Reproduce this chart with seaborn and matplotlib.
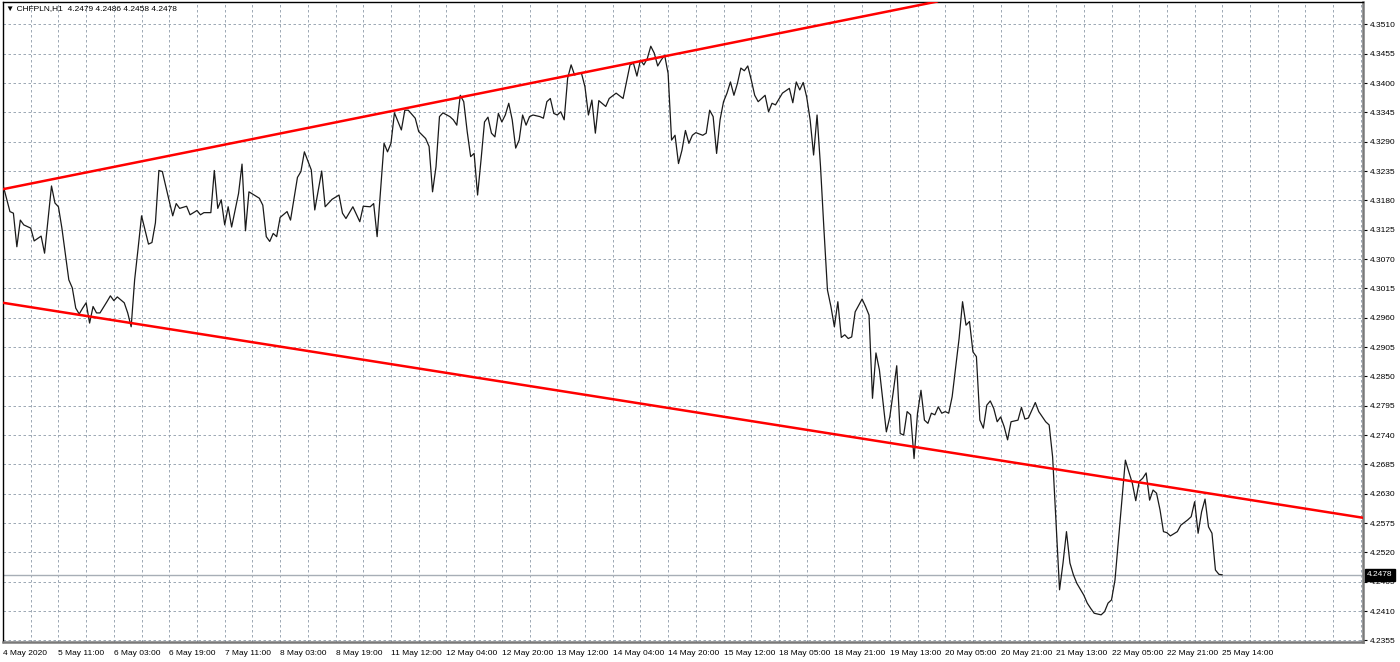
import matplotlib
matplotlib.use("Agg")
import matplotlib.pyplot as plt
import matplotlib.transforms as mtransforms
import pandas as pd
import seaborn as sns

symbol = "CHFPLN,H1"
last_ohlc = [4.2479, 4.2486, 4.2458, 4.2478]

# hourly bar index (weekend gaps removed, like the terminal does) and close price
bars = [
    0, 2, 3, 4, 5, 6, 8, 9, 11, 12, 14, 15, 16, 17, 19, 20, 21, 22, 23, 24,
    25, 26, 27, 28, 30, 31, 32, 33, 35, 36, 37, 38, 39, 40, 42, 43, 44, 45, 46, 47,
    49, 50, 51, 53, 54, 56, 57, 58, 60, 61, 62, 63, 64, 65, 66, 68, 69, 70, 71, 72,
    74, 75, 76, 77, 78, 79, 80, 82, 83, 85, 86, 87, 89, 90, 92, 93, 95, 97, 98, 99,
    101, 103, 104, 106, 107, 108, 109, 110, 111, 112, 113, 115, 116, 117, 119, 120, 122, 123, 124, 125,
    126, 127, 129, 130, 131, 132, 133, 134, 135, 136, 137, 138, 139, 140, 141, 142, 143, 144, 145, 146,
    147, 148, 149, 150, 151, 152, 153, 155, 156, 157, 158, 159, 160, 161, 162, 163, 164, 165, 166, 167,
    168, 169, 170, 171, 172, 174, 175, 177, 179, 181, 182, 183, 184, 185, 186, 187, 188, 189, 190, 191,
    192, 193, 194, 195, 196, 197, 198, 199, 200, 202, 203, 204, 205, 206, 207, 208, 209, 210, 211, 212,
    213, 214, 215, 216, 217, 218, 220, 221, 222, 223, 225, 227, 228, 229, 230, 231, 232, 233, 234, 235,
    236, 237, 238, 239, 240, 241, 242, 243, 244, 245, 246, 248, 249, 250, 251, 252, 253, 255, 256, 257,
    258, 259, 260, 261, 262, 263, 264, 265, 266, 267, 268, 269, 270, 271, 272, 273, 274, 276, 277, 278,
    279, 280, 281, 282, 283, 284, 285, 286, 287, 288, 289, 290, 291, 293, 294, 295, 296, 298, 299, 301,
    302, 303, 304, 305, 306, 307, 308, 309, 310, 312, 313, 314, 315, 317, 318, 319, 320, 321, 322, 323,
    324, 325, 326, 327, 328, 329, 330, 331, 332, 333, 334, 335, 336, 337, 339, 340, 342, 343, 344, 345,
    346, 347, 348, 349, 350, 351, 352,
]
closes = [
    4.3209, 4.3159, 4.3156, 4.3093, 4.3143, 4.3134, 4.3128, 4.3104, 4.3113, 4.3081,
    4.3207, 4.3175, 4.3168, 4.3128, 4.3031, 4.3016, 4.2978, 4.2967, 4.2978, 4.2988,
    4.2950, 4.2981, 4.2969, 4.2969, 4.2990, 4.3001, 4.2992, 4.2999, 4.2988, 4.2969,
    4.2943, 4.3031, 4.3090, 4.3151, 4.3098, 4.3101, 4.3138, 4.3236, 4.3234, 4.3206,
    4.3151, 4.3174, 4.3165, 4.3169, 4.3153, 4.3161, 4.3153, 4.3157, 4.3157, 4.3236,
    4.3165, 4.3181, 4.3134, 4.3168, 4.3130, 4.3193, 4.3248, 4.3123, 4.3196, 4.3192,
    4.3184, 4.3171, 4.3112, 4.3103, 4.3118, 4.3112, 4.3148, 4.3159, 4.3143, 4.3223,
    4.3234, 4.3271, 4.3237, 4.3162, 4.3235, 4.3168, 4.3182, 4.3190, 4.3156, 4.3146,
    4.3168, 4.3140, 4.3169, 4.3168, 4.3174, 4.3112, 4.3199, 4.3287, 4.3271, 4.3287,
    4.3344, 4.3312, 4.3349, 4.3349, 4.3334, 4.3309, 4.3296, 4.3281, 4.3196, 4.3243,
    4.3337, 4.3344, 4.3337, 4.3331, 4.3321, 4.3377, 4.3365, 4.3309, 4.3262, 4.3268,
    4.3190, 4.3256, 4.3327, 4.3336, 4.3306, 4.3299, 4.3343, 4.3327, 4.3340, 4.3362,
    4.3331, 4.3278, 4.3293, 4.3340, 4.3321, 4.3337, 4.3340, 4.3337, 4.3334, 4.3365,
    4.3371, 4.3343, 4.3340, 4.3346, 4.3331, 4.3409, 4.3434, 4.3415, 4.3418, 4.3418,
    4.3393, 4.3340, 4.3368, 4.3306, 4.3367, 4.3356, 4.3371, 4.3381, 4.3371, 4.3434,
    4.3437, 4.3413, 4.3443, 4.3434, 4.3446, 4.3469, 4.3456, 4.3432, 4.3443, 4.3452,
    4.3418, 4.3293, 4.3302, 4.3249, 4.3274, 4.3311, 4.3287, 4.3302, 4.3307, 4.3302,
    4.3306, 4.3349, 4.3337, 4.3268, 4.3331, 4.3365, 4.3381, 4.3402, 4.3377, 4.3399,
    4.3428, 4.3423, 4.3432, 4.3406, 4.3377, 4.3365, 4.3377, 4.3346, 4.3362, 4.3359,
    4.3381, 4.3390, 4.3363, 4.3402, 4.3387, 4.3401, 4.3374, 4.3331, 4.3265, 4.3340,
    4.3243, 4.3124, 4.3012, 4.2981, 4.2943, 4.2990, 4.2923, 4.2928, 4.2921, 4.2924,
    4.2971, 4.2995, 4.2981, 4.2965, 4.2809, 4.2894, 4.2862, 4.2746, 4.2774, 4.2821,
    4.2870, 4.2743, 4.2740, 4.2784, 4.2778, 4.2696, 4.2781, 4.2824, 4.2768, 4.2762,
    4.2781, 4.2778, 4.2793, 4.2781, 4.2784, 4.2781, 4.2812, 4.2921, 4.2990, 4.2946,
    4.2953, 4.2896, 4.2887, 4.2768, 4.2753, 4.2796, 4.2804, 4.2790, 4.2765, 4.2774,
    4.2756, 4.2731, 4.2765, 4.2768, 4.2792, 4.2770, 4.2772, 4.2801, 4.2784, 4.2765,
    4.2759, 4.2699, 4.2575, 4.2450, 4.2500, 4.2559, 4.2500, 4.2478, 4.2462, 4.2440,
    4.2425, 4.2415, 4.2406, 4.2403, 4.2409, 4.2425, 4.2431, 4.2468, 4.2543, 4.2618,
    4.2693, 4.2671, 4.2650, 4.2617, 4.2653, 4.2659, 4.2669, 4.2618, 4.2637, 4.2631,
    4.2600, 4.2559, 4.2557, 4.2551, 4.2559, 4.2571, 4.2581, 4.2587, 4.2615, 4.2556,
    4.2596, 4.2620, 4.2568, 4.2556, 4.2487, 4.2479, 4.2478,
]

time_labels = [
    "4 May 2020", "5 May 11:00", "6 May 03:00", "6 May 19:00", "7 May 11:00",
    "8 May 03:00", "8 May 19:00", "11 May 12:00", "12 May 04:00", "12 May 20:00",
    "13 May 12:00", "14 May 04:00", "14 May 20:00", "15 May 12:00", "18 May 05:00",
    "18 May 21:00", "19 May 13:00", "20 May 05:00", "20 May 21:00", "21 May 13:00",
    "22 May 05:00", "22 May 21:00", "25 May 14:00",
]
price_ticks = [
    4.2355, 4.2410, 4.2465, 4.2520, 4.2575, 4.2630, 4.2685, 4.2740, 4.2795, 4.2850, 4.2905,
    4.2960, 4.3015, 4.3070, 4.3125, 4.3180, 4.3235, 4.3290, 4.3345, 4.3400, 4.3455, 4.3510,
]

# channel trend lines, two anchor points each (bar, price)
upper_line = [(0, 4.3201), (269.1, 4.3552)]
lower_line = [(0, 4.2988), (392.6, 4.2585)]

sns.set_style("white")
plt.rcParams['font.family'] = ['Liberation Sans', 'DejaVu Sans']
plt.rcParams['font.size'] = 6

df = pd.DataFrame({"bar": bars, "close": closes})

fig = plt.figure(figsize=(14, 6.62), dpi=100)
ax = fig.add_axes([3 / 1400, 20 / 662, 1360 / 1400, 640.5 / 662])

grid_kw = dict(color="#8d9aa8", linestyle=(0, (3, 3)), linewidth=0.6)
ax.set_xticks(range(0, 16 * len(time_labels), 16))
ax.set_xticklabels(time_labels)
ax.set_xticks(range(0, 393, 8), minor=True)
ax.set_yticks(price_ticks)
ax.set_yticklabels([f"{p:.4f}" for p in price_ticks])
ax.grid(which="both", axis="x", **grid_kw)
ax.grid(which="major", axis="y", **grid_kw)
ax.set_axisbelow(True)

ax.axhline(last_ohlc[3], color="#a7aeb6", lw=1.0, zorder=1.5)
sns.lineplot(data=df, x="bar", y="close", color="#1a1a1a", lw=0.9,
             estimator=None, sort=False, ax=ax, zorder=3)
ax.axline(upper_line[0], upper_line[1], color="#ff0000", lw=1.8, zorder=4)
ax.axline(lower_line[0], lower_line[1], color="#ff0000", lw=1.8, zorder=4)

ax.set_xlim(0, 392.6)
ax.set_ylim(4.23521, 4.35528)
ax.set_xlabel("")
ax.set_ylabel("")

ax.yaxis.tick_right()
ax.tick_params(axis="y", which="major", direction="out", length=3, width=0.8,
               pad=2, labelsize=6, colors="black")
ax.tick_params(axis="x", which="major", direction="out", length=4, width=0.8,
               pad=2, labelsize=6, colors="black")
ax.tick_params(which="minor", length=0)
for lab in ax.get_xticklabels():
    lab.set_ha("left")

for side in ["left", "top"]:
    ax.spines[side].set_color("black")
    ax.spines[side].set_linewidth(1.0)
for side in ["right", "bottom"]:
    ax.spines[side].set_color("#7a7a7a")
    ax.spines[side].set_linewidth(1.8)

trans = mtransforms.blended_transform_factory(ax.transAxes, ax.transData)
ax.text(1.0 + 4 / 1360, last_ohlc[3], f"{last_ohlc[3]:.4f}", transform=trans,
        ha="left", va="center", color="white", fontsize=6, clip_on=False, zorder=10,
        bbox=dict(boxstyle="square,pad=0.3", fc="black", ec="black"))

fig.text(6 / 1400, 1 - 9 / 662,
         "\u25bc " + symbol + "  " + " ".join(f"{v:.4f}" for v in last_ohlc),
         ha="left", va="center", fontsize=6, color="black")

fig.savefig("out.png", dpi=100)
plt.close(fig)
